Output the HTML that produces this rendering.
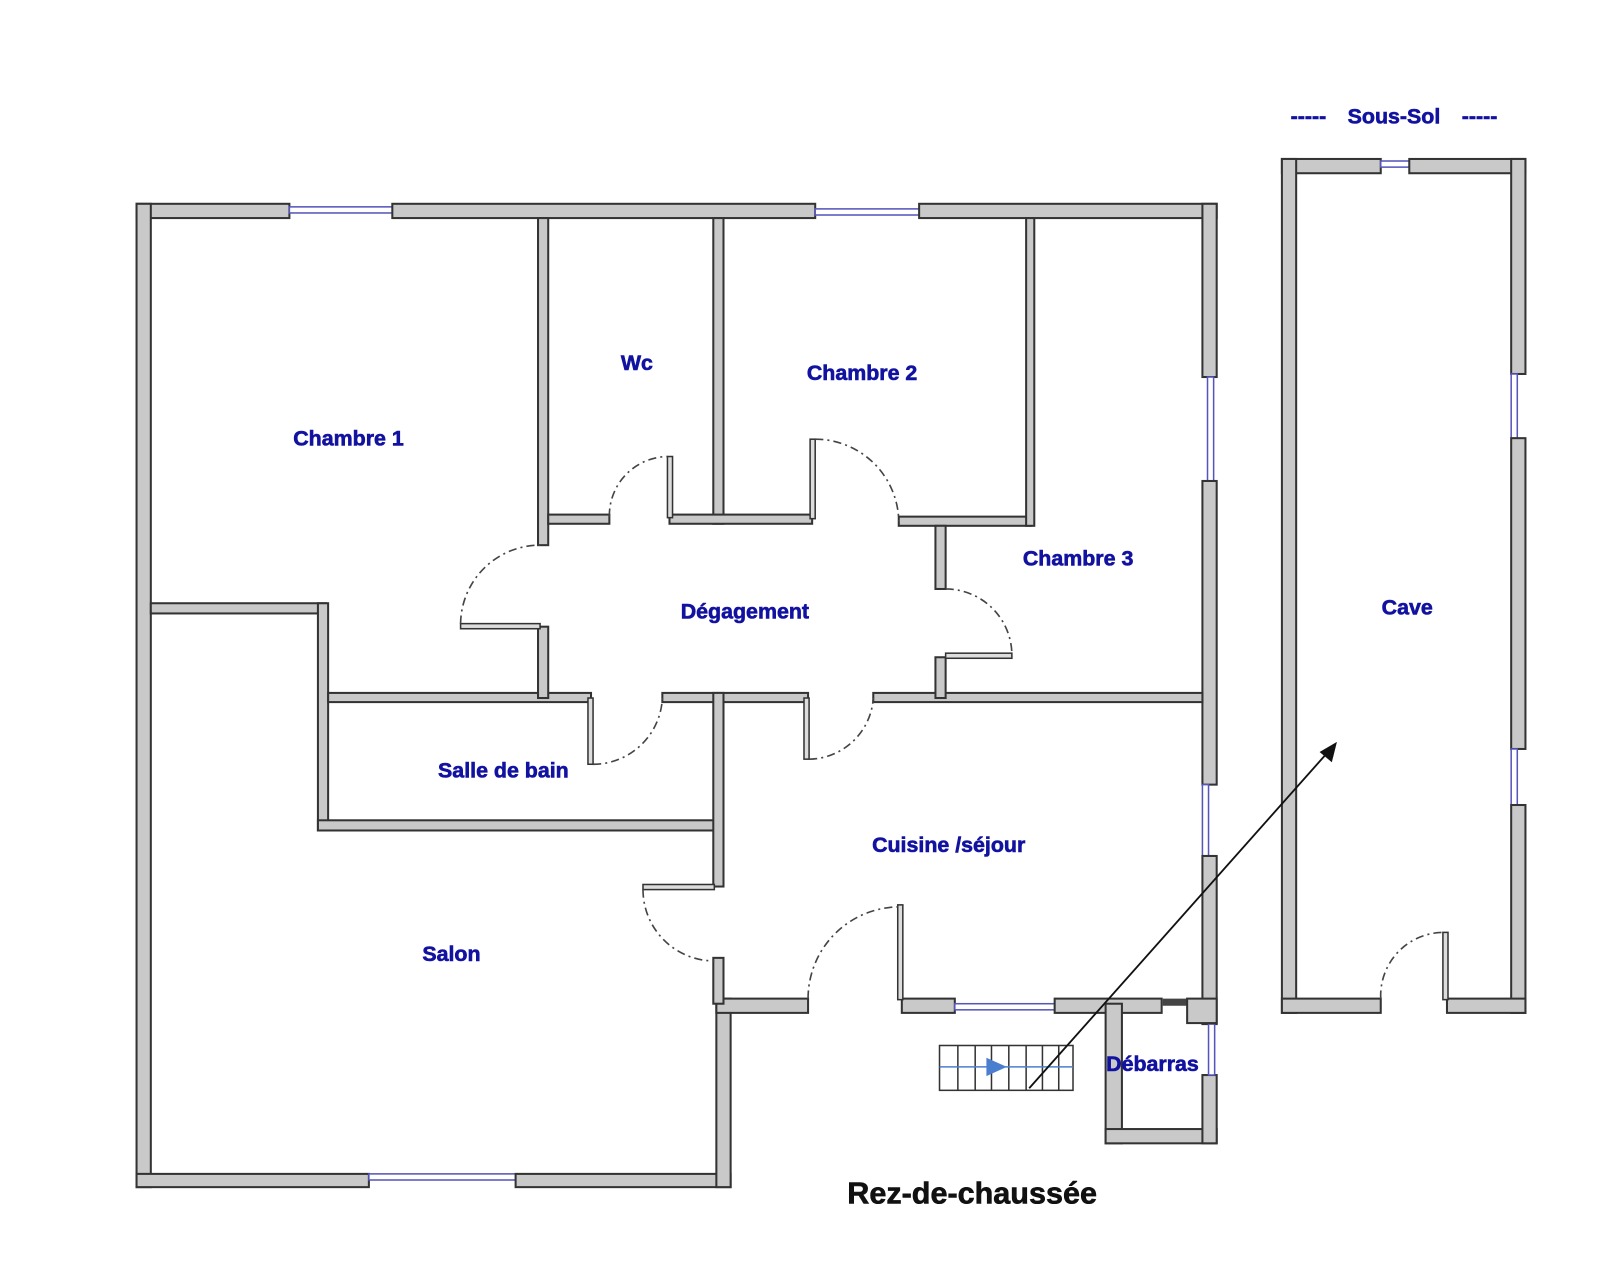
<!DOCTYPE html>
<html><head><meta charset="utf-8"><style>
html,body{margin:0;padding:0;background:#fff;}
svg{display:block;}
.w{fill:#c9c9c9;stroke:#333;stroke-width:2;}
.win{fill:#fff;stroke:#5555bb;stroke-width:1.5;}
.d{fill:none;stroke:#444;stroke-width:1.6;stroke-dasharray:8 4 2 4;}
.lf{fill:#ddd;stroke:#333;stroke-width:1.5;}
.t{font-family:"Liberation Sans",sans-serif;font-weight:bold;fill:#1212a0;stroke:#1212a0;stroke-width:0.6;font-size:21px;text-anchor:middle;}
</style></head><body>
<svg width="1600" height="1275" viewBox="0 0 1600 1275" xmlns="http://www.w3.org/2000/svg">
<g transform="scale(1.019)">
<rect class="w" x="134" y="200" width="150" height="14"/>
<rect class="win" x="284" y="203" width="101" height="6"/>
<rect class="w" x="385" y="200" width="415" height="14"/>
<rect class="win" x="800" y="205" width="102" height="6"/>
<rect class="w" x="902" y="200" width="292" height="14"/>
<rect class="w" x="134" y="200" width="14" height="965"/>
<rect class="w" x="134" y="1152" width="228" height="13"/>
<rect class="win" x="362" y="1152" width="144" height="6"/>
<rect class="w" x="506" y="1152" width="211" height="13"/>
<rect class="w" x="703" y="980" width="14" height="185"/>
<rect class="w" x="703" y="980" width="90" height="14"/>
<rect class="w" x="885" y="980" width="52" height="14"/>
<rect class="win" x="937" y="985" width="98" height="6"/>
<rect class="w" x="1035" y="980" width="105" height="14"/>
<rect class="w" x="1180" y="200" width="14" height="170"/>
<rect class="win" x="1185" y="370" width="6" height="102"/>
<rect class="w" x="1180" y="472" width="14" height="298"/>
<rect class="win" x="1180" y="770" width="6" height="70"/>
<rect class="w" x="1180" y="840" width="14" height="165"/>
<rect class="w" x="1085" y="985" width="16" height="137"/>
<rect class="w" x="1085" y="1108" width="109" height="14"/>
<rect class="w" x="1180" y="1055" width="14" height="67"/>
<rect class="win" x="1186" y="1005" width="6" height="50"/>
<rect x="1141" y="980" width="24" height="7" fill="#444"/>
<rect class="w" x="1165" y="980" width="29" height="24"/>
<rect class="w" x="148" y="592" width="172" height="10"/>
<rect class="w" x="312" y="592" width="10" height="223"/>
<rect class="w" x="312" y="805" width="391" height="10"/>
<rect class="w" x="322" y="680" width="258" height="9"/>
<rect class="w" x="650" y="680" width="143" height="9"/>
<rect class="w" x="857" y="680" width="323" height="9"/>
<rect class="w" x="700" y="680" width="10" height="190"/>
<rect class="w" x="700" y="940" width="10" height="45"/>
<rect class="w" x="528" y="214" width="10" height="321"/>
<rect class="w" x="528" y="615" width="10" height="70"/>
<rect class="w" x="700" y="214" width="10" height="300"/>
<rect class="w" x="538" y="505" width="60" height="9"/>
<rect class="w" x="657" y="505" width="140" height="9"/>
<rect class="w" x="882" y="507" width="130" height="9"/>
<rect class="w" x="1007" y="214" width="8" height="302"/>
<rect class="w" x="918" y="516" width="10" height="62"/>
<rect class="w" x="918" y="645" width="10" height="40"/>
<rect class="lf" x="655" y="448" width="5" height="60"/>
<path class="d" d="M598 507 A58 58 0 0 1 655 448"/>
<rect class="lf" x="795" y="431" width="5" height="78"/>
<path class="d" d="M800 431 A82 82 0 0 1 882 512"/>
<rect class="lf" x="452" y="612" width="78" height="5"/>
<path class="d" d="M452 612 A78 78 0 0 1 530 535"/>
<rect class="lf" x="928" y="641" width="65" height="5"/>
<path class="d" d="M928 578 A65 65 0 0 1 993 641"/>
<rect class="lf" x="577" y="685" width="5" height="65"/>
<path class="d" d="M582 750 A68 68 0 0 0 650 685"/>
<rect class="lf" x="789" y="685" width="5" height="60"/>
<path class="d" d="M794 745 A64 64 0 0 0 857 685"/>
<rect class="lf" x="631" y="868" width="70" height="5"/>
<path class="d" d="M631 873 A70 70 0 0 0 701 943"/>
<rect class="lf" x="881" y="888" width="5" height="93"/>
<path class="d" d="M793 980 A90 90 0 0 1 881 890"/>
<rect class="w" x="1258" y="156" width="97" height="14"/>
<rect class="win" x="1355" y="158" width="28" height="6"/>
<rect class="w" x="1383" y="156" width="114" height="14"/>
<rect class="w" x="1258" y="156" width="14" height="838"/>
<rect class="w" x="1483" y="156" width="14" height="211"/>
<rect class="win" x="1483" y="367" width="6" height="63"/>
<rect class="w" x="1483" y="430" width="14" height="305"/>
<rect class="win" x="1483" y="735" width="6" height="55"/>
<rect class="w" x="1483" y="790" width="14" height="204"/>
<rect class="w" x="1258" y="980" width="97" height="14"/>
<rect class="w" x="1420" y="980" width="77" height="14"/>
<rect class="lf" x="1416" y="915" width="5" height="66"/>
<path class="d" d="M1355 980 A62 62 0 0 1 1416 915"/>
<g stroke="#333" stroke-width="1.5" fill="none">
<rect x="922" y="1026" width="131" height="44"/>
<line x1="940" y1="1026" x2="940" y2="1070"/><line x1="957" y1="1026" x2="957" y2="1070"/>
<line x1="973" y1="1026" x2="973" y2="1070"/><line x1="990" y1="1026" x2="990" y2="1070"/>
<line x1="1007" y1="1026" x2="1007" y2="1070"/><line x1="1023" y1="1026" x2="1023" y2="1070"/>
<line x1="1039" y1="1026" x2="1039" y2="1070"/>
</g>
<line x1="922" y1="1047" x2="1053" y2="1047" stroke="#4a7fd0" stroke-width="1.5"/>
<polygon points="968,1038 988,1047 968,1056" fill="#4a7fd0"/>
<line x1="1010" y1="1068" x2="1305" y2="736" stroke="#111" stroke-width="1.8"/>
<polygon points="1312,728 1307,748 1295,738" fill="#111"/>
<text class="t" x="342" y="437">Chambre 1</text>
<text class="t" x="625" y="363">Wc</text>
<text class="t" x="846" y="373">Chambre 2</text>
<text class="t" x="1058" y="555">Chambre 3</text>
<text class="t" x="731" y="607">Dégagement</text>
<text class="t" x="494" y="763">Salle de bain</text>
<text class="t" x="931" y="836">Cuisine /séjour</text>
<text class="t" x="443" y="943">Salon</text>
<text class="t" x="1131" y="1051">Débarras</text>
<text class="t" x="1381" y="603">Cave</text>
<text class="t" x="1284" y="121">-----</text>
<text class="t" x="1368" y="121">Sous-Sol</text>
<text class="t" x="1452" y="121">-----</text>
<text x="954" y="1181" font-family="Liberation Sans,sans-serif" font-weight="bold" font-size="30" text-anchor="middle" fill="#111" stroke="#111" stroke-width="0.6">Rez-de-chaussée</text>
</g>
</svg>
</body></html>
